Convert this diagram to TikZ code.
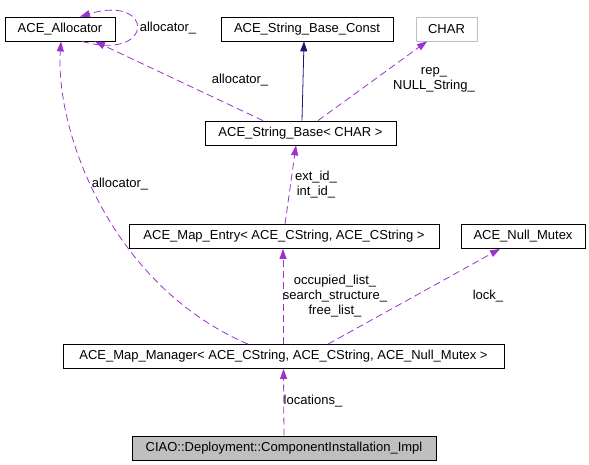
\documentclass[tikz,border=0pt]{standalone}
\usepackage{fontspec}
\setmainfont{Liberation Sans}
\usetikzlibrary{arrows.meta}
\definecolor{dep}{HTML}{9A32CD}
\definecolor{inh}{HTML}{191970}
\definecolor{grayb}{HTML}{BFBFBF}
\tikzset{
  cls/.style={draw=black, line width=0.8pt, rectangle, inner sep=0pt, minimum height=24pt, font=\fontsize{13}{15}\selectfont, text=black},
  lbl/.style={inner sep=0pt, align=center, font=\fontsize{13}{15}\selectfont},
  useedge/.style={draw=dep, line width=0.8pt, dash pattern=on 7pt off 4pt, -{Triangle[length=10pt,width=7pt]}},
  inhedge/.style={draw=inh, line width=0.8pt, -{Triangle[length=10pt,width=7pt]}}
}
\begin{document}
\begin{tikzpicture}[x=1pt,y=-1pt]
\useasboundingbox (0,0) rectangle (589,465);
\node[cls, minimum width=110pt] (alloc) at (60,29) {ACE\_Allocator};
\node[cls, minimum width=172pt] (sbc) at (307,29) {ACE\_String\_Base\_Const};
\node[cls, draw=grayb, minimum width=61pt] (char) at (446.5,29) {CHAR};
\node[cls, minimum width=191pt] (sb) at (300.5,133) {ACE\_String\_Base< CHAR >};
\node[cls, minimum width=310pt] (me) at (284,236.5) {ACE\_Map\_Entry< ACE\_CString, ACE\_CString >};
\node[cls, minimum width=124pt] (nm) at (523,236.5) {ACE\_Null\_Mutex};
\node[cls, minimum width=441pt] (mm) at (283.5,356.5) {ACE\_Map\_Manager< ACE\_CString, ACE\_CString, ACE\_Null\_Mutex >};
\node[cls, fill=grayb, minimum width=304pt] (ciao) at (284,448) {CIAO::Deployment::ComponentInstallation\_Impl};

% edges
\draw[useedge] ([xshift=22pt]alloc.south) .. controls (155,62) and (155,-6) .. ([xshift=20pt]alloc.north);
\draw[useedge] ([xshift=-37.5pt]sb.north) -- ([xshift=35pt]alloc.south);
\draw[useedge] ([xshift=-35.5pt]mm.north) .. controls (110,285) and (55,130) .. ([xshift=1pt]alloc.south);
\draw[inhedge] ([xshift=1.5pt]sb.north) -- ([xshift=-3pt]sbc.south);
\draw[useedge] ([xshift=17.5pt]sb.north) -- ([xshift=-19.5pt]char.south);
\draw[useedge] ([xshift=1pt]me.north) -- ([xshift=-4.5pt]sb.south);
\draw[useedge] ([xshift=-0.5pt]mm.north) -- ([xshift=-1pt]me.south);
\draw[useedge] ([xshift=44.5pt]mm.north) -- ([xshift=-23pt]nm.south);
\draw[useedge] (ciao.north) -- (mm.south);

% labels
\node[lbl] (l1) at (168,28) {allocator\_};
\node[lbl] (l2) at (240,80) {allocator\_};
\node[lbl] (l3) at (120,184) {allocator\_};
\node[lbl] (l4) at (434,80) {rep\_\\NULL\_String\_};
\node[lbl] (l5) at (316,185) {ext\_id\_\\int\_id\_};
\node[lbl] (l6) at (335,296) {occupied\_list\_\\search\_structure\_\\free\_list\_};
\node[lbl] (l7) at (488,296) {lock\_};
\node[lbl] (l8) at (313,401) {locations\_};
\end{tikzpicture}
\end{document}
